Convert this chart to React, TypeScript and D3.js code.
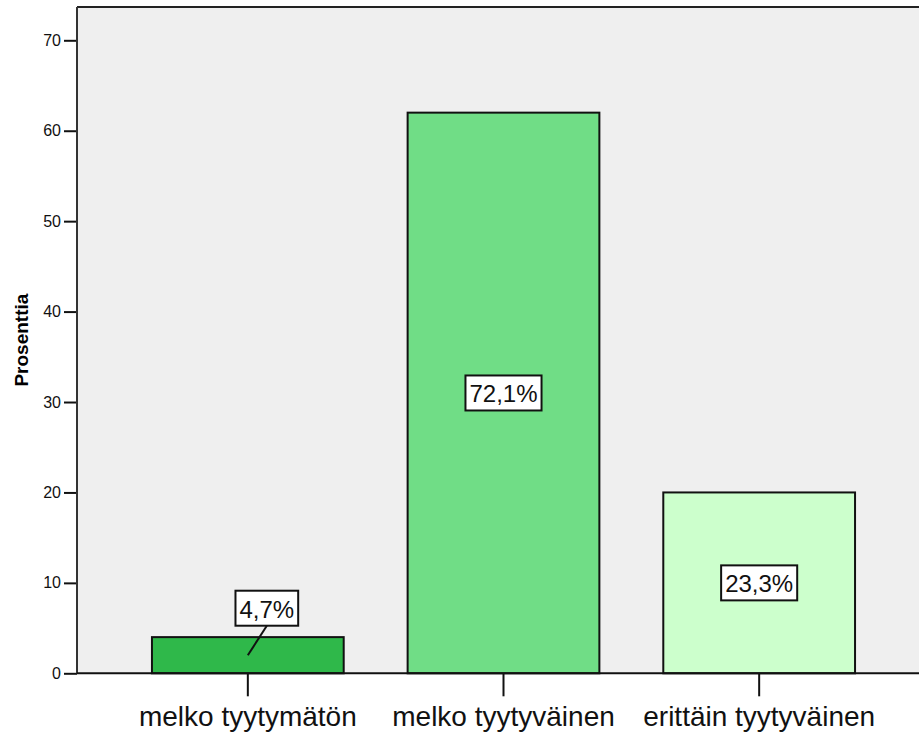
import React, { useEffect, useRef } from 'react'
import * as d3 from 'd3'

// vastausluokat ja lukumäärät (y-akseli kuvassa = lukumäärä)
const categories = ['melko tyytymätön', 'melko tyytyväinen', 'erittäin tyytyväinen']
const counts = [4, 62, 20]
const percentLabels = ['4,7%', '72,1%', '23,3%']
const barColors = ['#2fb84a', '#70dd86', '#ccffcc']
const yTicks = [0, 10, 20, 30, 40, 50, 60, 70]

const W = 919, H = 733

export default function App() {
  const ref = useRef<SVGSVGElement>(null)

  useEffect(() => {
    const svg = d3.select(ref.current)
    svg.selectAll('*').remove()

    const left = 77, top = 7, bottom = 673.3, right = W

    const y = d3.scaleLinear().domain([0, 70]).range([bottom, bottom - 633])
    const x = d3.scaleBand<string>()
      .domain(categories)
      .range([120, 887])
      .paddingInner(0.25)
      .paddingOuter(0.125)

    // taustalaatikko
    svg.append('rect')
      .attr('x', left).attr('y', top)
      .attr('width', right - left).attr('height', bottom - top)
      .attr('fill', '#efefef')
    svg.append('line')
      .attr('x1', left).attr('x2', right).attr('y1', top).attr('y2', top)
      .attr('stroke', '#222').attr('stroke-width', 2)

    // pylväät
    svg.selectAll('rect.bar')
      .data(counts)
      .enter()
      .append('rect')
      .attr('class', 'bar')
      .attr('x', (d, i) => x(categories[i])!)
      .attr('y', d => y(d))
      .attr('width', x.bandwidth())
      .attr('height', d => y(0) - y(d))
      .attr('fill', (d, i) => barColors[i])
      .attr('stroke', '#111')
      .attr('stroke-width', 2)

    // y-akseli
    const yAxis = d3.axisLeft(y).tickValues(yTicks).tickSize(13).tickPadding(3)
    const gy = svg.append('g')
      .attr('transform', `translate(${left},0)`)
      .call(yAxis)
    gy.select('.domain').remove()
    gy.selectAll('line').attr('stroke', '#111').attr('stroke-width', 2)
    gy.selectAll('text')
      .attr('font-family', 'Arial, "Liberation Sans", sans-serif')
      .attr('font-size', 16).attr('fill', '#111')
    svg.append('line')
      .attr('x1', left).attr('x2', left).attr('y1', top).attr('y2', bottom)
      .attr('stroke', '#333').attr('stroke-width', 2)

    // x-akseli
    const xAxis = d3.axisBottom(x).tickSize(23).tickPadding(10)
    const gx = svg.append('g')
      .attr('transform', `translate(0,${bottom})`)
      .call(xAxis)
    gx.select('.domain').remove()
    gx.selectAll('line').attr('stroke', '#111').attr('stroke-width', 2)
    gx.selectAll('text')
      .attr('font-family', 'Arial, "Liberation Sans", sans-serif')
      .attr('font-size', 28).attr('fill', '#111')
    svg.append('line')
      .attr('x1', left).attr('x2', right).attr('y1', bottom).attr('y2', bottom)
      .attr('stroke', '#111').attr('stroke-width', 2)

    // akselin otsikko
    svg.append('text')
      .attr('transform', `translate(28,${(top + bottom) / 2}) rotate(-90)`)
      .attr('text-anchor', 'middle')
      .attr('font-family', 'Arial, "Liberation Sans", sans-serif')
      .attr('font-weight', 'bold')
      .attr('font-size', 19)
      .text('Prosenttia')

    // prosenttilaatikot
    const labelFont = 24
    counts.forEach((d, i) => {
      const cx = x(categories[i])! + x.bandwidth() / 2
      const cyBar = (y(d) + y(0)) / 2
      const small = y(0) - y(d) < 60
      const lx = small ? cx + 19 : cx
      const ly = small ? cyBar - 47 : cyBar
      const g = svg.append('g')
      const t = g.append('text')
        .attr('x', lx).attr('y', ly + 1)
        .attr('text-anchor', 'middle')
        .attr('dominant-baseline', 'central')
        .attr('font-family', 'Arial, "Liberation Sans", sans-serif')
        .attr('font-size', labelFont)
        .attr('fill', '#111')
        .text(percentLabels[i])
      const bb = (t.node() as SVGTextElement).getBBox()
      const bw = bb.width + 8, bh = 35
      g.insert('rect', 'text')
        .attr('x', lx - bw / 2).attr('y', ly - bh / 2)
        .attr('width', bw).attr('height', bh)
        .attr('fill', '#fff').attr('stroke', '#111').attr('stroke-width', 2)
      if (small) {
        svg.append('line')
          .attr('x1', lx).attr('y1', ly + bh / 2)
          .attr('x2', cx).attr('y2', cyBar)
          .attr('stroke', '#111').attr('stroke-width', 2)
      }
    })
  }, [])

  return (
    <svg ref={ref} width={W} height={H}
      style={{ position: 'absolute', left: 0, top: 0, background: '#fff' }} />
  )
}
